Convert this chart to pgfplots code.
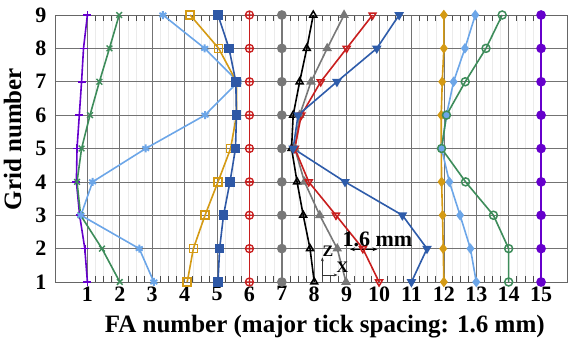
\documentclass[border=0pt]{standalone}
\usepackage{fontspec}
\setmainfont{Liberation Serif}
\usepackage{pgfplots}
\pgfplotsset{compat=1.18}
\usetikzlibrary{arrows.meta}
\definecolor{cpurple}{RGB}{102,0,204}
\definecolor{cgreen}{RGB}{61,140,90}
\definecolor{clblue}{RGB}{108,166,232}
\definecolor{cgold}{RGB}{212,154,20}
\definecolor{cdblue}{RGB}{46,88,166}
\definecolor{cred}{RGB}{200,30,30}
\definecolor{cgrey}{RGB}{120,120,120}
\definecolor{cblue}{RGB}{46,92,170}
\begin{document}
\begin{tikzpicture}
\useasboundingbox (-55pt,-60pt) rectangle (516pt,282pt);
\begin{axis}[
  at={(0,0)}, anchor=south west,
  scale only axis, width=512pt, height=267pt,
  xmin=0, xmax=15.8, ymin=1, ymax=9,
  xtick={1,...,15}, ytick={1,...,9},
  minor x tick num=3,
  grid=both,
  major grid style={draw=black!55, line width=0.7pt},
  minor grid style={draw=black!8, line width=0.4pt},
  tick align=inside,
  major tick length=0pt,
  minor tick length=6pt,
  minor tick style={black!70, line width=0.6pt},
  axis line style={black!60, line width=0.8pt},
  /pgf/number format/assume math mode=true,
  ticklabel style={font=\fontsize{22}{22}\selectfont\bfseries},
  yticklabel style={anchor=east, xshift=-5pt},
  xticklabel style={anchor=north, yshift=-1pt},
  xlabel={FA number (major tick spacing: 1.6 mm)},
  ylabel={Grid number},
  label style={font=\fontsize{25}{25}\selectfont\bfseries},
  xlabel style={at={(axis description cs:0.527,-0.168)}, anchor=center},
  ylabel style={at={(axis description cs:-0.083,0.535)}, anchor=center},
  clip=false,
  every axis plot/.append style={line width=1.6pt, mark size=4pt},
]
\addplot[cpurple, mark=+, mark options={line width=1.5pt}] coordinates {(1.0,1)(0.92,2)(0.76,3)(0.66,4)(0.68,5)(0.75,6)(0.82,7)(0.88,8)(1.0,9)};
\addplot[cgreen, mark=x, mark options={line width=1.5pt}] coordinates {(2.0,1)(1.45,2)(0.79,3)(0.68,4)(0.82,5)(1.08,6)(1.37,7)(1.68,8)(1.98,9)};
\addplot[clblue, mark=asterisk, mark options={line width=2pt}] coordinates {(3.05,1)(2.6,2)(0.8,3)(1.16,4)(2.8,5)(4.63,6)(5.65,7)(4.62,8)(3.33,9)};
\addplot[cgold, mark=square, mark options={fill=white, line width=1.5pt}] coordinates {(4.08,1)(4.27,2)(4.63,3)(5.03,4)(5.42,5)(5.6,6)(5.6,7)(5.05,8)(4.17,9)};
\addplot[cdblue, mark=square*] coordinates {(5.03,1)(5.08,2)(5.2,3)(5.4,4)(5.57,5)(5.6,6)(5.58,7)(5.37,8)(5.03,9)};
\addplot[cred, mark=oplus, mark options={fill=white, line width=1.3pt}] coordinates {(6,1)(6,2)(6,3)(6,4)(6,5)(6,6)(6,7)(6,8)(6,9)};
\addplot[cgrey, mark=*] coordinates {(7,1)(7,2)(7,3)(7,4)(7,5)(7,6)(7,7)(7,8)(7,9)};
\addplot[black, mark=triangle, mark options={fill=white, line width=1.5pt}] coordinates {(8.0,1)(7.87,2)(7.66,3)(7.47,4)(7.3,5)(7.35,6)(7.55,7)(7.77,8)(7.97,9)};
\addplot[cgrey, mark=triangle*] coordinates {(8.98,1)(8.71,2)(8.17,3)(7.7,4)(7.4,5)(7.55,6)(7.9,7)(8.4,8)(8.92,9)};
\addplot[cred, mark=triangle, mark options={fill=white, rotate=180, line width=1.5pt}] coordinates {(10.0,1)(9.5,2)(8.67,3)(7.83,4)(7.4,5)(7.6,6)(8.2,7)(9.0,8)(9.8,9)};
\addplot[cblue, mark=triangle*, mark options={rotate=180}] coordinates {(11.0,1)(11.48,2)(10.72,3)(8.95,4)(7.35,5)(7.5,6)(8.7,7)(9.93,8)(10.62,9)};
\addplot[cgold, mark=diamond*] coordinates {(12.0,1)(11.98,2)(11.96,3)(11.93,4)(11.92,5)(11.92,6)(11.95,7)(12.0,8)(12.0,9)};
\addplot[clblue, mark=diamond*] coordinates {(13.0,1)(12.82,2)(12.5,3)(12.17,4)(11.93,5)(12.08,6)(12.3,7)(12.65,8)(12.97,9)};
\addplot[cgreen, mark=o, mark options={fill=white, line width=1.5pt}] coordinates {(14.0,1)(14.0,2)(13.53,3)(12.67,4)(11.93,5)(12.08,6)(12.66,7)(13.3,8)(13.8,9)};
\addplot[cpurple, mark=*] coordinates {(15,1)(15,2)(15,3)(15,4)(15,5)(15,6)(15,7)(15,8)(15,9)};
% annotations
\node[font=\fontsize{22}{22}\selectfont\bfseries] at (axis cs:9.95,2.28) {1.6 mm};
\draw[black, line width=1pt, {Stealth[length=5pt]}-{Stealth[length=5pt]}] (axis cs:9.1,1.98) -- (axis cs:9.95,1.98);
\draw[black!80, line width=0.6pt, -{Stealth[length=4pt]}] (axis cs:8.25,1.21) -- (axis cs:8.25,1.74);
\draw[black!80, line width=0.6pt, -{Stealth[length=4pt]}] (axis cs:8.25,1.21) -- (axis cs:8.72,1.21);
\node[font=\fontsize{16}{16}\selectfont\bfseries] at (axis cs:8.42,1.92) {Z};
\node[font=\fontsize{16}{16}\selectfont\bfseries] at (axis cs:8.87,1.45) {X};
\end{axis}
\end{tikzpicture}
\end{document}
